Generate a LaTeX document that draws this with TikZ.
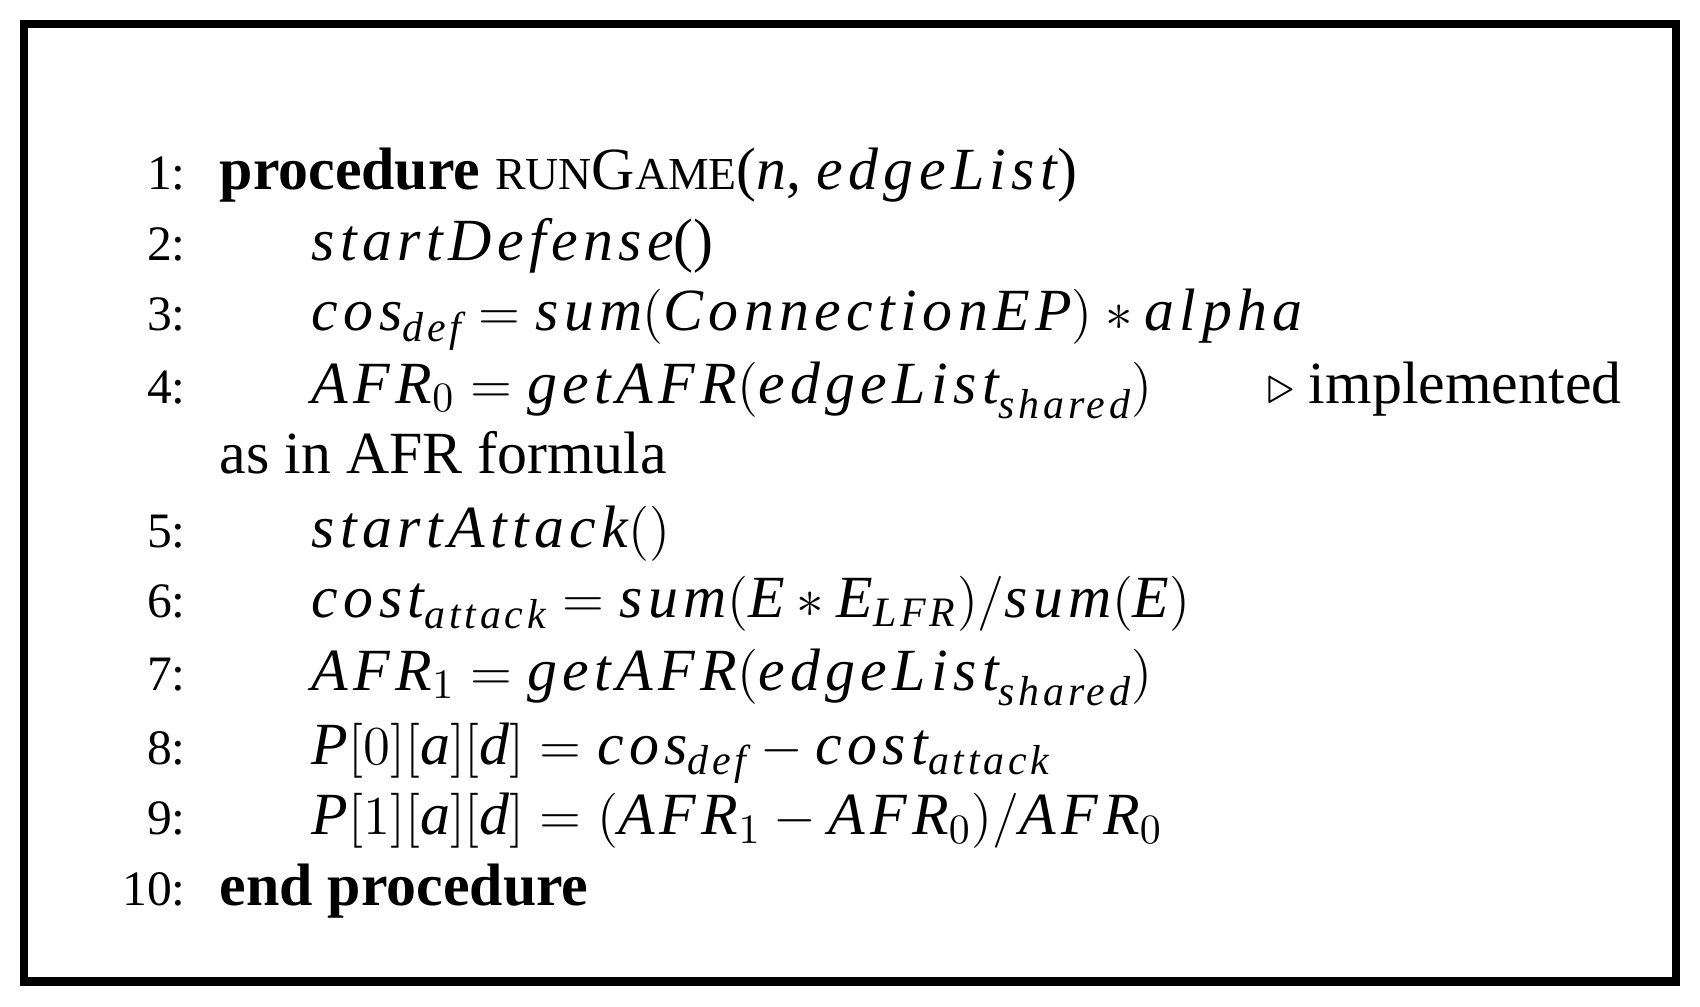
\documentclass[tikz,border=0pt]{standalone}
\usepackage{amsmath}
\usepackage{fontspec}
\setmainfont{Liberation Serif}
\newfontface\mif{Liberation Serif Italic}[LetterSpace=9]
\newcommand\mi[1]{\text{\mif #1}}
\begin{document}
\begin{tikzpicture}[x=0.01cm,y=-0.01cm,
  num/.style={anchor=base east,inner sep=0pt,font=\fontsize{13}{16}\selectfont},
  txt/.style={anchor=base west,inner sep=0pt,font=\fontsize{15.7}{18}\selectfont}]
\useasboundingbox (0,0) rectangle (1568,928);
\draw[line width=0.8mm] (22,22) rectangle (1546,905);
\node[num] (n1) at (172,175) {1:};
\node[txt] (l1) at (202,175) {\textbf{procedure} {\fontsize{12}{14}\selectfont RUN}G{\fontsize{12}{14}\selectfont AME}($\mi{n}$, \mi{edgeList})};
\node[num] (n2) at (172,240) {2:};
\node[txt] (l2) at (287,240) {\mi{startDefense}()};
\node[num] (n3) at (172,305) {3:};
\node[txt] (l3) at (287,305) {$\mi{cos}_{\mi{def}} = \mi{sum}(\mi{ConnectionEP}) * \mi{alpha}$};
\node[num] (n4) at (172,372) {4:};
\node[txt] (l4) at (287,372) {$\mi{AFR}_0 = \mi{getAFR}(\mi{edgeList}_{\mi{shared}})$};
\node[txt] (c4) at (1168,372) {$\triangleright$ implemented};
\node[txt] (l4b) at (202,437) {as in AFR formula};
\node[num] (n5) at (172,505) {5:};
\node[txt] (l5) at (287,505) {$\mi{startAttack}()$};
\node[num] (n6) at (172,570) {6:};
\node[txt] (l6) at (287,570) {$\mi{cost}_{\mi{attack}} = \mi{sum}(\mi{E} * \mi{E}_{\mi{LFR}})/\mi{sum}(\mi{E})$};
\node[num] (n7) at (172,637) {7:};
\node[txt] (l7) at (287,637) {$\mi{AFR}_1 = \mi{getAFR}(\mi{edgeList}_{\mi{shared}})$};
\node[num] (n8) at (172,705) {8:};
\node[txt] (l8) at (287,705) {$\mi{P}[0][\mi{a}][\mi{d}] = \mi{cos}_{\mi{def}} - \mi{cost}_{\mi{attack}}$};
\node[num] (n9) at (172,770) {9:};
\node[txt] (l9) at (287,770) {$\mi{P}[1][\mi{a}][\mi{d}] = (\mi{AFR}_1 - \mi{AFR}_0)/\mi{AFR}_0$};
\node[num] (n10) at (172,835) {10:};
\node[txt] (l10) at (202,835) {\textbf{end procedure}};
\end{tikzpicture}
\end{document}
